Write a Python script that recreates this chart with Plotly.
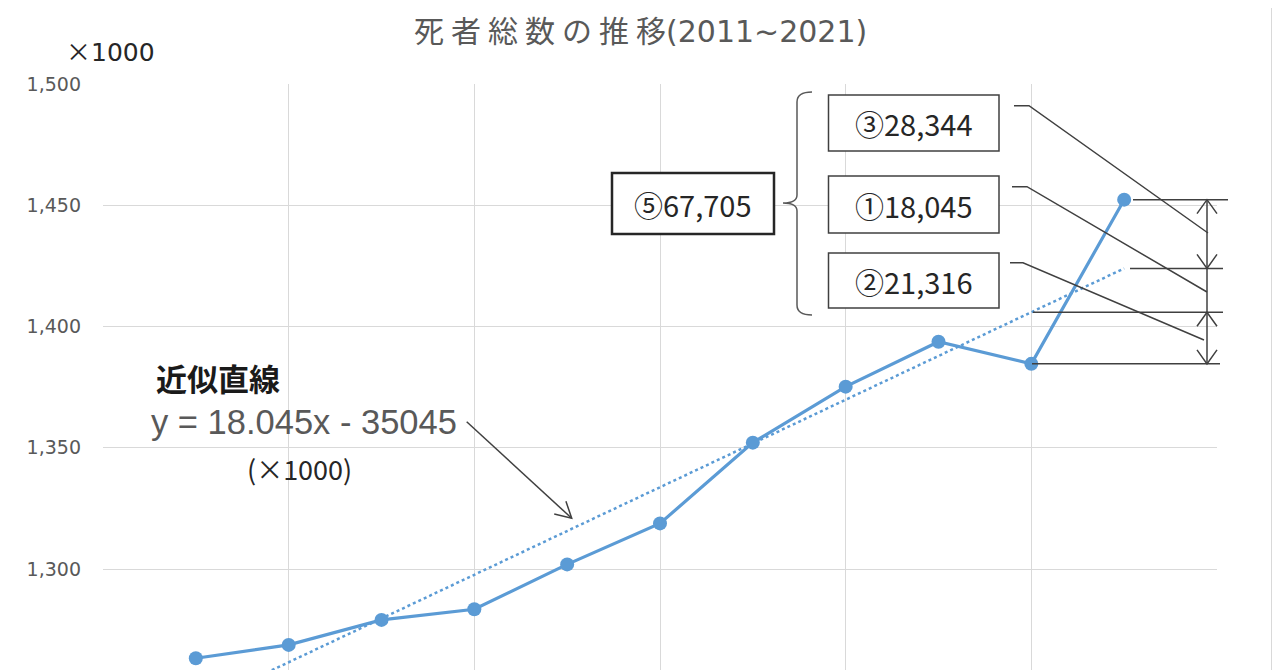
import plotly.graph_objects as go
import math

# 死者総数 (×1000)
years = [2011, 2012, 2013, 2014, 2015, 2016, 2017, 2018, 2019, 2020, 2021]
deaths = [1263.2, 1268.7, 1279.0, 1283.4, 1301.9, 1318.8, 1352.1, 1375.2, 1393.7, 1384.6, 1452.3]

# 近似直線 y = 18.045x - 35045
trend_slope = 18.045
trend_intercept = -35045

y_ticks = [1300, 1350, 1400, 1450, 1500]

box_labels = ["③28,344", "①18,045", "②21,316"]
total_label = "⑤67,705"

BLUE = "#5b9bd5"
DARK = "#404040"
GRID = "#d9d9d9"

# the page has an 8px body margin, so the figure starts at (8, 8) in the window
OFF = 8
# plot area in window pixels
L, R, T, B = 103, 1217, 84, 670


def X(px):
    return (px - L) / (R - L)


def Y(py):
    return (B - py) / (B - T)


def path(points):
    return "M " + " L ".join(f"{X(a):.5f},{Y(b):.5f}" for a, b in points)


trend_x = [years[0], years[-1]]
trend_y = [trend_slope * x + trend_intercept for x in trend_x]

fig = go.Figure()
fig.add_trace(go.Scatter(x=trend_x, y=trend_y, mode="lines",
                         line=dict(color=BLUE, width=2.5, dash="dot"), hoverinfo="skip"))
fig.add_trace(go.Scatter(x=years, y=deaths, mode="lines+markers",
                         line=dict(color=BLUE, width=3.2), marker=dict(size=14, color=BLUE)))

shapes = []
line_style = dict(color=DARK, width=1.5)

# chart area border
for px in (6, 1272):
    shapes.append(dict(type="line", xref="paper", yref="paper", x0=X(px), x1=X(px), y0=Y(-5), y1=Y(680),
                       line=dict(color=GRID, width=2)))

# boxes
for y0, y1 in [(95, 151), (176, 233), (253, 308)]:
    shapes.append(dict(type="rect", xref="paper", yref="paper", x0=X(828.5), x1=X(999), y0=Y(y1), y1=Y(y0),
                       line=dict(color=DARK, width=1.5), fillcolor="white"))
shapes.append(dict(type="rect", xref="paper", yref="paper", x0=X(612), x1=X(774), y0=Y(234), y1=Y(173),
                   line=dict(color="#262626", width=2.5), fillcolor="white"))

# brace
brace = (f"M {X(812):.5f},{Y(92):.5f} Q {X(797):.5f},{Y(92):.5f} {X(797):.5f},{Y(102):.5f} "
         f"L {X(797):.5f},{Y(195):.5f} Q {X(797):.5f},{Y(203):.5f} {X(783):.5f},{Y(203):.5f} "
         f"Q {X(797):.5f},{Y(203):.5f} {X(797):.5f},{Y(211):.5f} "
         f"L {X(797):.5f},{Y(305):.5f} Q {X(797):.5f},{Y(315):.5f} {X(812):.5f},{Y(315):.5f}")
shapes.append(dict(type="path", xref="paper", yref="paper", path=brace, line=dict(color="#595959", width=1.5)))

# leader lines from boxes
for pts in [[(1014, 105.7), (1029, 105.7), (1208, 233)],
            [(1012, 186.7), (1027, 186.7), (1207, 292)],
            [(1010, 262.7), (1023, 262.7), (1204, 340)]]:
    shapes.append(dict(type="path", xref="paper", yref="paper", path=path(pts), line=line_style))

# dimension lines at actual / trend values
t2021 = trend_slope * years[-1] + trend_intercept
t2020 = trend_slope * years[-2] + trend_intercept
for val, x0, x1 in [(deaths[-1], 1133, 1228), (t2021, 1130, 1223), (t2020, 1033, 1223), (deaths[-2], 1032, 1220)]:
    shapes.append(dict(type="line", xref="paper", yref="y", x0=X(x0), x1=X(x1), y0=val, y1=val, line=line_style))
ax = 1207
shapes.append(dict(type="line", xref="paper", yref="y", x0=X(ax), x1=X(ax), y0=deaths[-2], y1=deaths[-1],
                   line=line_style))
unit = 2.425  # px per 1000
for val, direction in [(deaths[-1], 1), (t2021, -1), (t2020, 1), (deaths[-2], -1)]:
    dy = -direction * 14 / unit
    p = (f"M {X(ax - 10):.5f},{val + dy:.4f} L {X(ax):.5f},{val:.4f} L {X(ax + 10):.5f},{val + dy:.4f}")
    shapes.append(dict(type="path", xref="paper", yref="y", path=p, line=line_style))

# arrow from equation to trend line
sx, sy, ex, ey = 466.7, 421.7, 571.7, 518.3
shapes.append(dict(type="line", xref="paper", yref="paper", x0=X(sx), y0=Y(sy), x1=X(ex), y1=Y(ey),
                   line=line_style))
ang = math.atan2(ey - sy, ex - sx)
arm = []
for da in (0.5, -0.5):
    arm.append((ex - 18 * math.cos(ang + da), ey - 18 * math.sin(ang + da)))
shapes.append(dict(type="path", xref="paper", yref="paper", path=path([arm[0], (ex, ey), arm[1]]),
                   line=line_style))

JP = "Noto Sans CJK JP"
annotations = [
    dict(text='×<span style="font-family:DejaVu Sans">1000</span>', x=X(64), y=Y(50), xanchor="left",
         font=dict(family=JP, size=25, color="#262626")),
    dict(text="<b>近似直線</b>", x=X(154), y=Y(377), xanchor="left", font=dict(family=JP, size=31, color="#1a1a1a")),
    dict(text="y = 18.045x - 35045", x=X(149), y=Y(422), xanchor="left",
         font=dict(family="Liberation Sans", size=34.5, color="#595959")),
    dict(text="(×1000)", x=X(299), y=Y(468), xanchor="center", font=dict(family=JP, size=27, color="#262626")),
    dict(text=total_label, x=X(693), y=Y(203.5), xanchor="center", font=dict(family=JP, size=29, color="#262626")),
    dict(text='<span style="letter-spacing:7px">死者総数の推</span>移'
              '<span style="font-family:DejaVu Sans">(2011~2021)</span>',
         x=X(640), y=Y(29), xanchor="center", font=dict(family=JP, size=30, color="#595959")),
]
for label, cy in zip(box_labels, [123, 204.5, 280.5]):
    annotations.append(dict(text=label, x=X(914), y=Y(cy), xanchor="center",
                            font=dict(family=JP, size=29, color="#262626")))
for a in annotations:
    a.update(xref="paper", yref="paper", yanchor="middle", showarrow=False)

fig.update_layout(
    width=1280, height=670,
    margin=dict(l=L - OFF, r=1280 - (R - OFF), t=T - OFF, b=670 - (B - OFF)),
    paper_bgcolor="white", plot_bgcolor="white",
    showlegend=False,
    xaxis=dict(range=[2010, 2022], tick0=2010, dtick=2, showticklabels=False, showgrid=True,
               gridcolor=GRID, gridwidth=1, zeroline=False, showline=False),
    yaxis=dict(range=[1500 - (B - T) / unit, 1500], tickvals=y_ticks, tickformat=",d", showgrid=True,
               gridcolor=GRID, gridwidth=1, zeroline=False, showline=False, ticklabelstandoff=21,
               tickfont=dict(family="DejaVu Sans", size=19, color="#595959")),
    shapes=shapes,
    annotations=annotations,
)

fig.write_html("out.html")
